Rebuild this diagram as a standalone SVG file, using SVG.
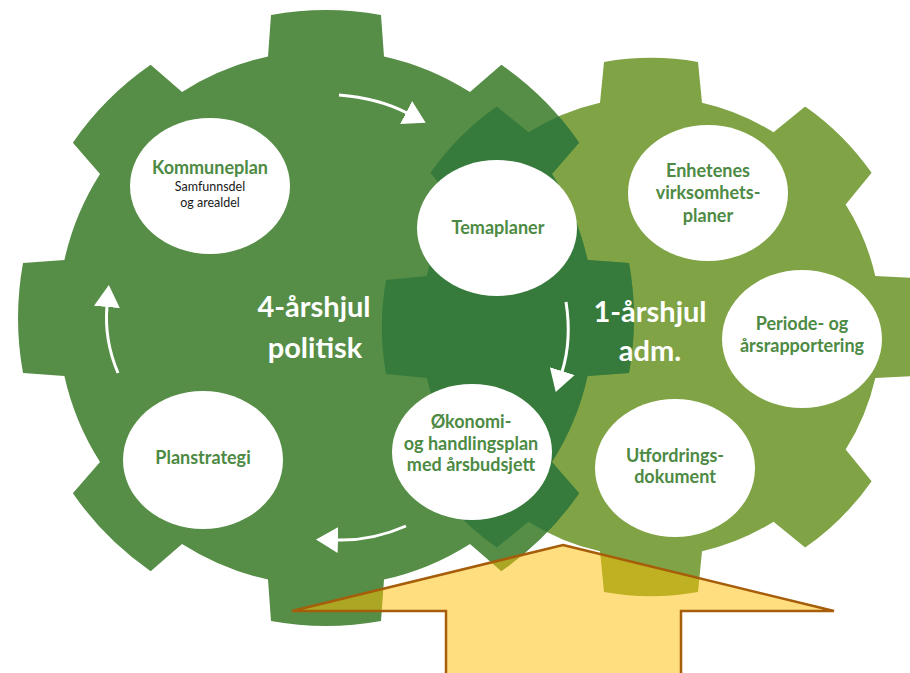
<svg xmlns="http://www.w3.org/2000/svg" xmlns:xlink="http://www.w3.org/1999/xlink" width="910" height="673" viewBox="0 0 910 673">
<style>
.t{font-family:Lato,"Open Sans","Liberation Sans",sans-serif;text-anchor:middle}
.title{font-size:18px;font-weight:bold;fill:#4d8a44}
.sub{font-size:12.5px;fill:#1a1a1a}
.big{font-size:29px;font-weight:bold;fill:#ffffff}
.node{fill:#ffffff}
.flow{fill:none;stroke:#ffffff;stroke-width:3;marker-end:url(#head)}
</style>
<defs>
<path id="gL" d="M261.6,-58 L303,-55 A308,308 0 0 1 303,55 L261.6,58 A268,268 0 0 1 225.99,143.97 L253.14,175.36 A308,308 0 0 1 175.36,253.14 L143.97,225.99 A268,268 0 0 1 58,261.6 L55,303 A308,308 0 0 1 -55,303 L-58,261.6 A268,268 0 0 1 -143.97,225.99 L-175.36,253.14 A308,308 0 0 1 -253.14,175.36 L-225.99,143.97 A268,268 0 0 1 -261.6,58 L-303,55 A308,308 0 0 1 -303,-55 L-261.6,-58 A268,268 0 0 1 -225.99,-143.97 L-253.14,-175.36 A308,308 0 0 1 -175.36,-253.14 L-143.97,-225.99 A268,268 0 0 1 -58,-261.6 L-55,-303 A308,308 0 0 1 55,-303 L58,-261.6 A268,268 0 0 1 143.97,-225.99 L175.36,-253.14 A308,308 0 0 1 253.14,-175.36 L225.99,-143.97 A268,268 0 0 1 261.6,-58 Z"/>
<path id="gR" d="M224.3,-51 L265,-49 A269,269 0 0 1 265,49 L224.3,51 A230,230 0 0 1 194.66,122.54 L220.61,154.15 A269,269 0 0 1 154.15,220.61 L122.54,194.66 A230,230 0 0 1 51,224.3 L47,265 A269,269 0 0 1 -47,265 L-51,224.3 A230,230 0 0 1 -122.54,194.66 L-154.15,220.61 A269,269 0 0 1 -220.61,154.15 L-194.66,122.54 A230,230 0 0 1 -224.3,51 L-265,47 A269,269 0 0 1 -265,-47 L-224.3,-51 A230,230 0 0 1 -194.66,-122.54 L-220.61,-154.15 A269,269 0 0 1 -154.15,-220.61 L-122.54,-194.66 A230,230 0 0 1 -51,-224.3 L-47,-265 A269,269 0 0 1 47,-265 L51,-224.3 A230,230 0 0 1 122.54,-194.66 L154.15,-220.61 A269,269 0 0 1 220.61,-154.15 L194.66,-122.54 A230,230 0 0 1 224.3,-51 Z"/>
<clipPath id="clipR">
<use xlink:href="#gR" href="#gR" transform="translate(651,327)"/>
</clipPath>
<marker id="head" markerUnits="userSpaceOnUse" viewBox="0 0 22 26" refX="1" refY="13" markerWidth="22" markerHeight="26" orient="auto">
<path d="M0,0 L22,13 L0,26 Z" fill="#ffffff"/>
</marker>
</defs>

<g id="gear-right">
<use xlink:href="#gR" href="#gR" transform="translate(651,327)" fill="#80a445"/>
</g>
<g id="gear-left">
<use xlink:href="#gL" href="#gL" transform="translate(326,318)" fill="#568e47"/>
</g>
<g id="gear-overlap" clip-path="url(#clipR)">
<use xlink:href="#gL" href="#gL" transform="translate(326,318)" fill="#377b3c"/>
</g>

<g id="wheel-labels">
<text class="t big" x="314" y="317">4-årshjul</text>
<text class="t big" x="315" y="358">politisk</text>
<text class="t big" x="650" y="322">1-årshjul</text>
<text class="t big" x="650" y="361">adm.</text>
</g>

<g id="connectors">
<path class="flow" d="M339,95 Q378,98 407,113"/>
<path class="flow" d="M566,302 Q572,340 562,372"/>
<path class="flow" d="M406,526 Q372,541 337,540"/>
<path class="flow" d="M118,373 Q104,340 107,306"/>
</g>

<g id="kommuneplan">
<ellipse class="node" cx="210" cy="186" rx="80" ry="68"/>
<text class="t title" x="210" y="174">Kommuneplan</text>
<text class="t sub" x="210" y="191">Samfunnsdel</text>
<text class="t sub" x="210" y="207">og arealdel</text>
</g>
<g id="temaplaner">
<ellipse class="node" cx="497" cy="228" rx="80" ry="68"/>
<text class="t title" x="498" y="234">Temaplaner</text>
</g>
<g id="okonomiplan">
<ellipse class="node" cx="472" cy="452" rx="80" ry="68"/>
<text class="t title" x="471" y="428">Økonomi-</text>
<text class="t title" x="471" y="450">og handlingsplan</text>
<text class="t title" x="471" y="471">med årsbudsjett</text>
</g>
<g id="planstrategi">
<ellipse class="node" cx="203" cy="460" rx="80" ry="69"/>
<text class="t title" x="203" y="464">Planstrategi</text>
</g>
<g id="virksomhetsplaner">
<ellipse class="node" cx="708" cy="193" rx="80" ry="68"/>
<text class="t title" x="708" y="177">Enhetenes</text>
<text class="t title" x="708" y="199">virksomhets-</text>
<text class="t title" x="708" y="222">planer</text>
</g>
<g id="rapportering">
<ellipse class="node" cx="802" cy="339" rx="80" ry="69"/>
<text class="t title" x="802" y="330">Periode- og</text>
<text class="t title" x="802" y="352">årsrapportering</text>
</g>
<g id="utfordringsdokument">
<ellipse class="node" cx="675" cy="468" rx="80" ry="69"/>
<text class="t title" x="675" y="462">Utfordrings-</text>
<text class="t title" x="675" y="483">dokument</text>
</g>

<g id="input-arrow">
<polygon points="563,545 834,611 681,611 681,690 446,690 446,611 292,611" fill="#ffbd00" fill-opacity="0.5" stroke="#a65e0a" stroke-width="2.5" stroke-linejoin="miter"/>
</g>
</svg>
